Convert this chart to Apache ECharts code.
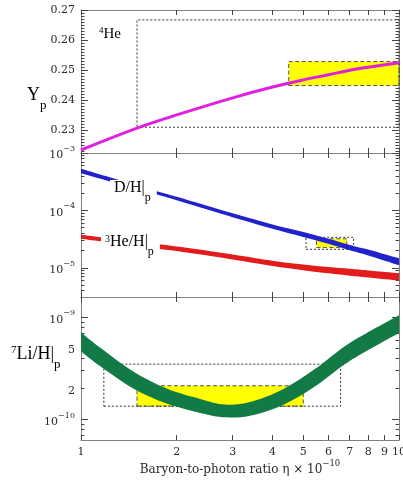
<!DOCTYPE html>
<html><head><meta charset="utf-8">
<script src="https://cdn.jsdelivr.net/npm/echarts@6/dist/echarts.min.js"></script>
<style>html,body{margin:0;padding:0;background:#fff;}#c{width:403px;height:481px;}</style>
</head><body><div id="c"></div>
<script>
// ---------- shared x axis ----------
const etaRange = [1, 10];
const xTickValues = [1, 2, 3, 4, 5, 6, 7, 8, 9, 10];
const xTickLabels = ['1', '2', '3', '4', '5', '6', '7', '8', '9', '10'];

// ---------- panel 1 : 4He mass fraction ----------
const p1Range = [0.2223, 0.27];
const p1TickValues = [0.23, 0.24, 0.25, 0.26, 0.27];
const p1TickLabels = ['0.23', '0.24', '0.25', '0.26', '0.27'];
const heEta = [1, 1.5, 2, 3, 4, 5, 6, 7, 8, 10];
const heYp  = [0.2233, 0.2306, 0.2350, 0.2407, 0.2443, 0.2467, 0.2484, 0.2499, 0.2509, 0.2524];
const heYellowEta = [4.5, 10];
const heYellowY = [0.2448, 0.2528];
const heDottedEta = [1.5, 10];
const heDottedY = [0.2309, 0.2667];

// ---------- panel 2 : D/H and 3He/H ----------
const p2Range = [3.1e-6, 1e-3];
const p2TickValues = [1e-5, 1e-4, 1e-3];
const p2TickLabels = ['{b|10}{s|\u22125}', '{b|10}{s|\u22124}', '{b|10}{s|\u22123}'];
const dEta   = [1, 1.5, 2, 3, 4, 5, 6, 7, 8, 10];
const dUpper = [5.3e-4, 2.72e-4, 1.73e-4, 8.9e-5, 5.7e-5, 4.2e-5, 3.2e-5, 2.5e-5, 2.08e-5, 1.46e-5];
const dLower = [4.45e-4, 2.35e-4, 1.50e-4, 7.6e-5, 4.8e-5, 3.45e-5, 2.62e-5, 2.02e-5, 1.64e-5, 1.11e-5];
const he3Eta   = [1, 1.5, 2, 3, 4, 5, 6, 7, 8, 10];
const he3Upper = [3.78e-5, 2.84e-5, 2.35e-5, 1.71e-5, 1.33e-5, 1.14e-5, 1.03e-5, 9.6e-6, 9.0e-6, 8.1e-6];
const he3Lower = [3.20e-5, 2.38e-5, 1.96e-5, 1.40e-5, 1.08e-5, 9.1e-6, 8.0e-6, 7.3e-6, 6.8e-6, 6.0e-6];
const dYellowEta = [5.5, 6.85];
const dYellowY = [2.25e-5, 3.2e-5];
const dDottedEta = [5.1, 7.2];
const dDottedY = [2.1e-5, 3.4e-5];

// ---------- panel 3 : 7Li/H ----------
const p3Range = [6.3e-11, 1.58e-9];
const p3TickValues = [1e-10, 2e-10, 5e-10, 1e-9];
const p3TickLabels = ['{b|10}{s|\u221210}', '{b|2}', '{b|5}', '{b|10}{s|\u22129}'];
const liEta   = [1, 1.15, 1.46, 1.86, 2.37, 2.84, 3.4, 4.32, 5.48, 7.0, 10];
const liUpper = [7.10e-10, 5.03e-10, 2.95e-10, 2.01e-10, 1.59e-10, 1.40e-10, 1.48e-10, 1.98e-10, 3.17e-10, 5.61e-10, 1.05e-9];
const liLower = [4.63e-10, 3.32e-10, 2.01e-10, 1.43e-10, 1.16e-10, 1.05e-10, 1.09e-10, 1.39e-10, 2.14e-10, 3.74e-10, 7.02e-10];
const liYellowEta = [1.5, 5.0];
const liYellowY = [1.35e-10, 2.14e-10];
const liDottedEta = [1.18, 6.55];
const liDottedY = [1.35e-10, 3.48e-10];

// ---------- styling ----------
const F = 'DejaVu Serif';
const FT = 'Liberation Serif';
const TXT = '#2a2a2a';
const FRAME = '#808080';
const TICK = '#444';
const grids = [
  {left: 81, top: 10, width: 318, height: 143},
  {left: 81, top: 153, width: 318, height: 144},
  {left: 81, top: 297, width: 318, height: 143}
];
const richTick = {
  b: {fontFamily: F, fontSize: 11, color: TXT, lineHeight: 16, verticalAlign: 'bottom'},
  s: {fontFamily: F, fontSize: 8, color: TXT, lineHeight: 8, verticalAlign: 'top'}
};

function minorLog(range) {
  const out = [];
  const lo = Math.floor(Math.log10(range[0])), hi = Math.ceil(Math.log10(range[1]));
  for (let d = lo; d < hi; d++) for (let k = 2; k <= 9; k++) {
    const v = k * Math.pow(10, d);
    if (v > range[0] && v < range[1]) out.push(v);
  }
  return out;
}
function minorLin(range, step) {
  const out = [];
  for (let i = Math.ceil(range[0] / step); i * step < range[1] - 1e-9; i++) out.push(+(i * step).toFixed(4));
  return out;
}
function nearestLabel(vals, labels, f) {
  return function (v) {
    let best = 0, bd = Infinity;
    vals.forEach((t, i) => { const d = Math.abs(f(t) - v); if (d < bd) { bd = d; best = i; } });
    return labels[best];
  };
}

const xAxes = [], yAxes = [];
const L10 = Math.log10;
grids.forEach((g, gi) => {
  xAxes.push({type: 'log', gridIndex: gi, min: etaRange[0], max: etaRange[1], show: false});
  ['bottom', 'top'].forEach(pos => {
    const withLabels = gi === 2 && pos === 'bottom';
    const ax = {
      type: 'value', gridIndex: gi, position: pos, min: L10(etaRange[0]), max: L10(etaRange[1]),
      axisLine: {show: true, onZero: false, lineStyle: {color: FRAME, width: 1}},
      axisTick: {show: true, inside: true, length: 5, customValues: xTickValues.map(L10), lineStyle: {color: TICK}},
      splitLine: {show: false},
      axisLabel: withLabels ? {
        show: true, customValues: xTickValues.map(L10), margin: 7,
        fontFamily: F, fontSize: 11, color: TXT,
        formatter: nearestLabel(xTickValues, xTickLabels, L10)
      } : {show: false}
    };
    if (withLabels) {
      ax.name = '{b|Baryon-to-photon ratio \u03b7 \u00d7 10}{s|\u221210}';
      ax.nameLocation = 'middle';
      ax.nameGap = 17;
      ax.nameTextStyle = {rich: {
        b: {fontFamily: F, fontSize: 12, color: TXT, lineHeight: 17, verticalAlign: 'bottom'},
        s: {fontFamily: F, fontSize: 8.5, color: TXT, lineHeight: 9, verticalAlign: 'top'}
      }};
    }
    xAxes.push(ax);
  });
});

const panelY = [
  {range: p1Range, log: false, vals: p1TickValues, labels: p1TickLabels, major: p1TickValues, minor: minorLin(p1Range, 0.001)},
  {range: p2Range, log: true, vals: p2TickValues, labels: p2TickLabels, major: p2TickValues, minor: minorLog(p2Range)},
  {range: p3Range, log: true, vals: p3TickValues, labels: p3TickLabels, major: [1e-10, 1e-9], minor: minorLog(p3Range)}
];
panelY.forEach((p, gi) => {
  const f = p.log ? L10 : (v => v);
  yAxes.push(p.log
    ? {type: 'log', gridIndex: gi, min: p.range[0], max: p.range[1], show: false}
    : {type: 'value', gridIndex: gi, min: p.range[0], max: p.range[1], show: false});
  ['left', 'right'].forEach(pos => {
    yAxes.push({
      type: 'value', gridIndex: gi, position: pos, min: f(p.range[0]), max: f(p.range[1]),
      axisLine: {show: true, onZero: false, lineStyle: {color: FRAME, width: 1}},
      axisTick: {show: true, inside: true, length: 7, customValues: p.major.map(f), lineStyle: {color: TICK}},
      splitLine: {show: false},
      axisLabel: pos === 'left' ? {
        show: true, customValues: p.vals.map(f), margin: 6,
        fontFamily: F, fontSize: 11, color: TXT, rich: richTick,
        formatter: nearestLabel(p.vals, p.labels, f)
      } : {show: false}
    });
    yAxes.push({
      type: 'value', gridIndex: gi, position: pos, min: f(p.range[0]), max: f(p.range[1]),
      axisLine: {show: false},
      axisTick: {show: true, inside: true, length: 3.5, customValues: p.minor.map(f), lineStyle: {color: TICK}},
      splitLine: {show: false}, axisLabel: {show: false}
    });
  });
});

function boxes(yellowEta, yellowY, dottedEta, dottedY) {
  return {
    silent: true,
    data: [
      [{coord: [yellowEta[0], yellowY[0]], itemStyle: {color: '#ffff00', borderColor: '#555', borderWidth: 1, borderType: [4, 2.5]}},
       {coord: [yellowEta[1], yellowY[1]]}],
      [{coord: [dottedEta[0], dottedY[0]], itemStyle: {color: 'rgba(0,0,0,0)', borderColor: '#333', borderWidth: 1, borderType: [2, 2]}},
       {coord: [dottedEta[1], dottedY[1]]}]
    ]
  };
}
// Catmull-Rom smoothing of the band outline (rendering only)
function crSegs(p) {
  let s = '';
  for (let i = 0; i < p.length - 1; i++) {
    const p0 = p[i - 1] || p[i], p1 = p[i], p2 = p[i + 1], p3 = p[i + 2] || p[i + 1];
    const c1x = p1[0] + (p2[0] - p0[0]) / 6, c1y = p1[1] + (p2[1] - p0[1]) / 6;
    const c2x = p2[0] - (p3[0] - p1[0]) / 6, c2y = p2[1] - (p3[1] - p1[1]) / 6;
    s += ' C' + c1x + ' ' + c1y + ' ' + c2x + ' ' + c2y + ' ' + p2[0] + ' ' + p2[1];
  }
  return s;
}
function band(gi, eta, lo, hi, color, mark) {
  const s = {
    type: 'custom', coordinateSystem: 'cartesian2d', xAxisIndex: gi * 3, yAxisIndex: gi * 5,
    data: eta.map((e, i) => [e, lo[i], hi[i]]), encode: {x: 0, y: [1, 2]}, z: 3, silent: true,
    renderItem: function (params, api) {
      if (params.dataIndex !== 0) return null;
      const up = eta.map((e, i) => api.coord([e, hi[i]]));
      const dn = eta.map((e, i) => api.coord([e, lo[i]])).reverse();
      const d = 'M' + up[0][0] + ' ' + up[0][1] + crSegs(up) +
        ' L' + dn[0][0] + ' ' + dn[0][1] + crSegs(dn) + ' Z';
      return {type: 'path', shape: {pathData: d}, style: {fill: color}};
    }
  };
  if (mark) s.markArea = mark;
  return s;
}

const series = [
  {
    type: 'line', xAxisIndex: 0, yAxisIndex: 0, data: heEta.map((e, i) => [e, heYp[i]]),
    smooth: 0.4, symbol: 'none', z: 3, silent: true,
    lineStyle: {color: '#e020e0', width: 3},
    markArea: boxes(heYellowEta, heYellowY, heDottedEta, heDottedY)
  },
  band(1, dEta, dLower, dUpper, '#2222cc', boxes(dYellowEta, dYellowY, dDottedEta, dDottedY)),
  band(1, he3Eta, he3Lower, he3Upper, '#e21b1b'),
  band(2, liEta, liLower, liUpper, '#117a45', boxes(liYellowEta, liYellowY, liDottedEta, liDottedY))
];

const mid = {
  b: {fontFamily: FT, fontSize: 16, color: TXT, lineHeight: 18, verticalAlign: 'bottom'},
  s: {fontFamily: FT, fontSize: 10, color: TXT, lineHeight: 9, verticalAlign: 'top'},
  p: {fontFamily: FT, fontSize: 12, color: TXT, lineHeight: 24, verticalAlign: 'bottom'},
  t: {fontFamily: FT, fontSize: 16, color: TXT, lineHeight: 18, verticalAlign: 'top'}
};
const big = {
  b: {fontFamily: FT, fontSize: 18, color: TXT, lineHeight: 20, verticalAlign: 'top'},
  s: {fontFamily: FT, fontSize: 11, color: TXT, lineHeight: 10, verticalAlign: 'top'},
  p: {fontFamily: FT, fontSize: 13, color: TXT, lineHeight: 26, verticalAlign: 'bottom'}
};

const graphic = [
  {type: 'text', left: 99, top: 26, z: 100, style: {text: '{s|4}{b|He}', rich: {
    b: {fontFamily: FT, fontSize: 15, color: TXT, lineHeight: 16, verticalAlign: 'bottom'},
    s: {fontFamily: FT, fontSize: 9, color: TXT, lineHeight: 8, verticalAlign: 'top'}}}},
  {type: 'text', left: 27, top: 86, z: 100, style: {text: '{b|Y}{p|p}', rich: big}},
  {type: 'text', left: 110, top: 180, z: 100, style: {text: '{t|D/H|}{p|p}', rich: mid, backgroundColor: '#fff', padding: [0, 6, 0, 4]}},
  {type: 'text', left: 101, top: 234, z: 100, style: {text: '{s|3}{t|He/H|}{p|p}', rich: mid, backgroundColor: '#fff', padding: [0, 6, 0, 4]}},
  {type: 'text', left: 11, top: 345, z: 100, style: {text: '{s|7}{b|Li/H|}{p|p}', rich: big}}
];

const chart = echarts.init(document.getElementById('c'), null, {renderer: 'canvas'});
chart.setOption({
  animation: false,
  backgroundColor: '#ffffff',
  grid: grids.map(g => Object.assign({containLabel: false, outerBoundsMode: 'none'}, g)),
  xAxis: xAxes,
  yAxis: yAxes,
  series: series,
  graphic: graphic
});
</script></body></html>
